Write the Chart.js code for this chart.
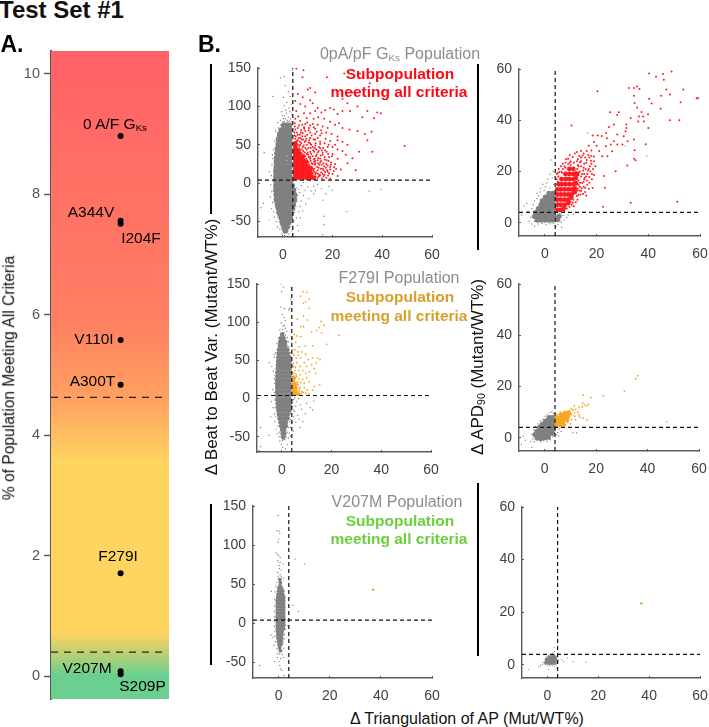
<!DOCTYPE html>
<html><head><meta charset="utf-8"><style>
html,body{margin:0;padding:0;background:#fff;width:709px;height:727px;overflow:hidden;font-family:"Liberation Sans",Arial,sans-serif}
canvas{position:absolute;display:block}
.t{position:absolute;white-space:nowrap;line-height:1;transform:translate(-50%,-50%)}
.r{transform:translate(-50%,-50%) rotate(-90deg)}
.bar{position:absolute;background:#000;width:2px}
sub{font-size:.62em;vertical-align:-.2em;line-height:0}
</style>
<script src="https://cdn.jsdelivr.net/npm/chart.js@4"></script></head><body>
<script>
// Panel A values
const mutantLabels=['0 A/F GKs','A344V','I204F','V110I','A300T','F279I','V207M','S209P'];
const mutantPercent=[8.97,7.56,7.51,5.58,4.84,1.71,0.08,0.03];
const percentTicks=[0,2,4,6,8,10];
const cutoffs=[4.63,0.4];
const gradientStops=[[10.38,'#ff6167'],[5.9,'#ff7f62'],[4.63,'#ffa061'],[3.55,'#ffd45f'],[0.72,'#ffd45f'],[0.4,'#c2cf72'],[0.02,'#6bd08f'],[-0.38,'#6bd08f']];
// Scatter axes
const triTicks=[0,20,40,60];
const bvTicks=[-50,0,50,100,150];
const apdTicks=[0,20,40,60];
const thresholdValue=4;
// Panel 1: 0 pA/pF, beat variability vs triangulation
const p1GrayCore=[[.4,75],[1.5,75],[2.6,75],[-.6,69],[.8,69],[2.6,69],[-1.2,63],[.3,63],[1.9,63],[2.7,63],[-1.6,57],[-.2,57],[1.4,57],[2.7,57],[-1.8,51],[-.5,51],[1,51],[2.7,51],[-2.1,45],[-.7,45],[.9,45],[2.7,45],[-2.3,39],[-.9,39],[.7,39],[2.7,39],[-2.4,33],[-1,33],[.6,33],[2.7,33],[-2.5,27],[-1.1,27],[.5,27],[2.7,27],[-2.6,21],[-1.2,21],[.4,21],[2,21],[2.7,21],[-2.7,15],[-1.2,15],[.4,15],[2,15],[2.7,15],[-2.7,9],[-1.2,9],[.4,9],[2,9],[2.7,9],[-2.7,3],[-1.2,3],[.4,3],[2,3],[3,3],[-2.7,-3],[-1.2,-3],[.4,-3],[2,-3],[3.6,-3],[-2.7,-9],[-1.2,-9],[.4,-9],[2,-9],[3.6,-9],[4.2,-9],[-2.6,-15],[-1.2,-15],[.4,-15],[2,-15],[3.6,-15],[4.6,-15],[-2.5,-21],[-1.1,-21],[.5,-21],[2.1,-21],[3.7,-21],[4.6,-21],[-2.1,-27],[-.7,-27],[.9,-27],[2.5,-27],[4.1,-27],[-1.7,-33],[-.3,-33],[1.3,-33],[2.9,-33],[3.8,-33],[-1.3,-39],[0,-39],[1.6,-39],[3.2,-39],[-.6,-45],[.7,-45],[2.2,-45],[2.9,-45],[-.1,-51],[1.1,-51],[2.3,-51],[.5,-57],[1.6,-57],[1,-62]];
const p1GrayDots=[[.5,139],[-1,137],[3.9,147],[-4,113],[-7.5,40],[-4,32],[-5.5,15],[-7.8,-26],[-8.8,-32],[-5.5,-48],[25.7,-37],[39.4,-8],[34.7,-10],[18.6,-4],[16.6,-43],[16,-67],[16.6,-54],[1,127],[2.2,119],[3,113],[.2,112],[1.6,105],[3.3,103],[.5,101],[2.5,98],[1.2,95],[-.4,93],[3.4,90],[.7,88],[2.2,86],[-1,82],[.2,84],[1.7,82],[3.5,80],[-2,79],[-3,68],[-3.3,55],[-3.7,44],[-4.2,37],[-4.4,24],[-4.6,10],[-4.9,-2],[-4.4,-11],[-5,-18],[-4.1,-25],[-4.6,-33],[-3.7,-37],[-3.4,-44],[-2.7,-50],[-2.2,-57],[-1.2,-60],[-.4,-66],[.7,-68],[2.4,-66],[3.4,-62],[4,-56],[4.4,-49],[5.4,-45],[6.4,-37],[7,-30],[7.4,-23],[8.3,-16],[9,-9],[10,-5],[6.8,-12],[7.4,-3],[8.2,1],[11.4,-10],[12.4,-4],[14,-2],[12.4,-14],[10.4,-20],[9.2,-27],[8,-36],[7,-45],[6,-55],[13.2,-9],[15.6,-7],[17.3,-14],[19.8,-9],[16.2,-22],[6.3,-62],[3.8,-68],[-3.2,40],[-3.4,30],[-3.6,18],[-3.7,6],[-3.8,-6],[-3.5,-16],[-3.4,-24],[-3,-31],[-2.6,-38],[-2,-44],[-1.4,-50],[-.8,-55],[-.2,-60],[2.9,-57],[3.4,-50],[3.8,-44],[4.6,-38],[5.2,-30],[5.6,-24],[6,-16],[5.6,-6],[4.8,-3],[6.4,-8],[-2.6,60],[-2.3,66],[-1.6,72],[-.9,76],[0,80],[.9,84],[1.4,78],[2.6,81],[3.1,84],[-.2,88],[1.4,91],[2.8,93],[.6,80],[2,80],[-.2,71],[3.3,69],[3.4,60],[3.4,48],[3.4,36],[3.4,26]];
const p1RedCore=[[5,7],[6.5,7],[8,7],[9.5,7],[11,7],[12.4,7],[5,11],[6.5,11],[8,11],[9.5,11],[11,11],[5,15],[6.5,15],[8,15],[9.5,15],[11,15],[5,19],[6.5,19],[8,19],[9.5,19],[11,20],[5,23],[6.5,23],[8,23],[9.5,23],[5,27],[6.5,27],[8,27],[9.4,28],[5,31],[6.5,31],[8,31],[5,35],[6.5,35],[8,35],[5,39],[6.5,39],[5,43],[6.2,43],[5,47],[5,52]];
const p1RedDots=[[49,48.5],[39.4,91],[38,92],[36.7,84.5],[35.7,67],[34,56],[36,41],[30.7,41],[29.3,17],[23.3,18],[22,9.5],[28,32.5],[25.3,37],[22,60.7],[22.6,78],[5.5,149.5],[8.3,147],[7.9,138],[10,122],[11,124],[13,118],[17.7,138],[24.7,143],[31,143],[35,130],[28,118],[24,110],[26,104],[30,100],[34,94],[32,86],[27,94],[24,94],[22,90],[20.5,96],[19,98],[17,95],[15.5,92],[14,98],[11,108],[8,112],[6,116],[5,107],[7,103],[9,100],[12,104],[13,94],[11,91],[8.5,91],[5.4,94],[6.2,87],[9.6,85],[12.4,84],[14.2,86],[16.6,84],[19,80],[21,76],[24,72],[26.8,70],[30,68],[33,64],[18,72],[16,74],[14,76],[12,77],[9.8,79],[7,81],[5,84],[4.8,78],[6.5,75],[8.5,73],[10.5,72],[13,71],[15.4,69],[17.4,66],[19.6,64],[22,56],[24,54],[26,50],[21,50],[19,55],[17.2,58],[15,62],[13,64],[11,66],[9,68],[7.4,69],[5,70],[4.6,62],[6.8,63],[9,61],[11,59],[13,57],[15,54],[16.8,52],[18.4,50],[20,47],[22,44],[24,42],[20,38],[18.6,34],[17,43],[15,46],[13,49],[11,52],[9.2,55],[7.6,57],[6,56],[5,53],[8.4,49],[10.3,46],[12.2,43],[14,40],[16,37],[17.6,30],[19.4,27],[16.3,26],[15,32],[13.3,35],[11.4,38],[10,40],[9,35],[11,32],[13,29],[14.6,24],[12,25],[10.3,27],[10,22],[12,19],[14,17],[16,19],[18,15],[19,21],[16.8,11],[15,10],[13,12],[14,7],[17.5,7],[12,13],[10.6,14],[12.4,9],[26,26],[22,32],[21,25],[10.5,9],[11.8,10],[13,6],[14.5,9],[15.8,6],[16.4,9],[18.2,10],[19,6],[11,14],[12.6,15],[14,12.5],[15.4,14],[17,14.5],[18.6,13],[11,18],[12.6,19],[13.8,21],[15.3,19],[17.3,20],[19,18],[20.5,16],[10.6,24],[11.6,21],[13,24],[14.2,26],[15.6,24],[17.4,25],[19.3,24],[20.6,21],[9.6,28],[11.2,29],[12.4,31],[14,30],[15.4,29],[16.8,31],[18.4,29],[9.4,32],[10.4,34],[12,35],[13.6,37],[15.2,36],[16.8,34],[18.2,38],[19.8,35],[8.4,36],[9.6,38],[11,41],[12.6,41],[14.4,42],[16,40],[17.6,41],[8.2,42],[9.6,44],[11.2,46],[12.8,46],[14.6,47],[16.2,46],[18,47],[6.6,45],[8,47],[9.6,50],[11.4,50],[13.2,52],[15,51],[6,50],[7.4,52],[8.8,54],[10.6,56],[12.4,57],[14,59],[5,58],[6.4,59],[7.8,61],[9.8,63],[11.6,62],[13.6,67],[15.6,65],[5.6,66],[7.2,66],[8.6,71],[10.4,69],[12.4,73],[4.8,74],[6,72],[7.8,76],[9,77],[11,75],[11.4,12],[13.2,9],[12.2,17],[13.4,14],[14.6,11],[16,12],[14.4,20],[13,26],[11.6,26],[12.6,28],[11,34],[10.2,37],[12.8,32],[14.2,33],[7.6,39],[8.8,40],[7.6,44],[9,46],[6.6,48],[7,50],[5.6,55],[6.8,54],[8.2,57],[5.2,61],[6,63],[7,59],[4.6,66],[8,65],[9.4,58],[10.4,53],[12,47],[13.4,44],[15.6,43],[16.6,22],[18,23],[15,27],[16.4,17],[17.8,17],[20,12],[21.4,19]];
// Panel 2: 0 pA/pF, APD vs triangulation
const p2GrayCore=[[-3,1],[-1.5,1],[0,1],[1.5,1],[2.8,1],[-4,2.5],[-2.5,2.5],[-1,2.5],[.5,2.5],[2,2.5],[3.1,2.5],[-3.5,4],[-2,4],[-.5,4],[1,4],[2.5,4],[3.1,4],[-2.5,5.5],[-1,5.5],[.5,5.5],[2,5.5],[3.1,5.5],[-1.5,7],[0,7],[1.5,7],[3.1,7],[-1,8.5],[.5,8.5],[2,8.5],[3.1,8.5],[.2,10],[1.6,10],[3.1,10],[1.6,11.5],[3.1,11.5],[4.6,2],[5.5,2.6],[5,1.2]];
const p2GrayDots=[[-6,.6],[-5.4,2],[-6.5,4.5],[-8,6.5],[-7,7.5],[-9,3],[-5,5.5],[-4.5,7],[-4,8.5],[-3,9.5],[-2.4,10.5],[-1.8,12],[-3,11.5],[-1.5,13.5],[-.8,15],[-.3,12.5],[.4,14],[.8,15.5],[1.2,17],[2.8,17.5],[2,19],[3.2,20],[2.4,24.5],[3.5,15],[1.8,13.5],[-4,.5],[-5,-.5],[-4,-1.4],[-2.5,-.5],[-1,-.3],[.5,-.8],[2,-.4],[3.4,-.2],[5,-.7],[6.3,.3],[7.5,1],[8.5,2],[7,2.8],[5.8,3.4],[6.5,-1.8],[16.5,35],[31,30],[39.5,26],[9,3],[11,3.4],[4.2,-1.5]];
const p2RedCore=[[4.8,5],[6,5],[7.2,5.4],[4.8,7],[6.2,7],[7.6,7],[9,7.6],[4.8,9],[6.2,9],[7.6,9],[9,9],[10.2,9.8],[4.8,11],[6.2,11],[7.6,11],[9,11],[10.4,11],[11.5,12],[4.8,13],[6.2,13],[7.6,13],[9,13],[10.4,13],[11.6,13.4],[5.4,15],[6.6,15],[8,15],[9.5,15],[11,15],[12,15.4],[6.5,17],[8,17],[9.5,17],[11,17],[12,17.4],[8,19],[9.5,19],[11,19],[12.4,19],[9.5,21],[11,21]];
const p2RedDots=[[40.3,58.2],[43,57],[45.7,58],[46,55.8],[49,59],[47,52],[48.4,50],[45,49.6],[53.5,52],[52.5,47],[58.7,48.6],[59.3,48.6],[44.8,44.5],[48.4,40],[52,40],[40,37],[51.2,8.2],[39,30.6],[33.2,7.8],[22.5,6.2],[10.3,37.9],[20.3,51.3],[32.5,52.6],[34.5,52.6],[35.6,53.2],[36.6,52.2],[34.5,49.6],[34.7,46.7],[40.3,48.4],[41.3,46.5],[35.7,45],[37.4,43.2],[36.4,41.5],[39.9,42.3],[38,41.5],[38.3,39.5],[36.1,39.5],[33.2,40.9],[28.6,43.1],[25.2,43.1],[28,42],[31.5,38.3],[31.5,37],[31.2,35.7],[26.7,38.3],[24.8,37.4],[23.7,35],[28,34.4],[30.5,33.7],[34.5,32.5],[32,31.8],[30,30.5],[28,30.5],[25.5,30.5],[23.6,29.8],[22.2,25.9],[24.2,25.9],[26,27.9],[26.7,31.8],[34.7,28.3],[34.5,25],[35.1,24.4],[31.9,22.3],[27.4,20.1],[22.8,18.2],[23.2,13.6],[20.5,34],[18.5,34],[20,30],[22,33.8],[24,33],[21,28],[18,28.2],[16.2,28],[19,25.8],[17.2,25.4],[15,27],[13.4,26],[11.6,27],[14,24],[16,23.4],[18,23],[19.5,22],[17,21],[15,21.4],[13,22],[8.2,24.8],[7,23],[9,22.8],[12.4,24],[14.4,19],[16.4,19],[18.2,19],[15.2,17],[17.2,15.6],[13.6,15.6],[15,14],[18.5,13.5],[17,13.2],[13.4,12.6],[12.4,10.4],[11,9],[12,8],[9.5,6.2],[8.5,5.5],[7.5,4.6],[8.6,17.5],[6,17.5],[5,16],[4.7,15],[7.4,19],[5.2,18],[6.4,20],[5.4,21],[8,21.4],[10,24],[12.5,21],[14,28],[17,30],[19,31.5],[12.5,12.5],[13.5,14],[14.4,15.5],[13,16.5],[14,18],[15.4,17.5],[16.2,16.5],[13.5,20],[14.8,20.4],[15.8,21],[16.6,20.4],[17.6,20],[12.8,22.5],[14,22],[15.2,23],[16.2,24.5],[17.4,22],[18.6,21],[19,24],[18,26],[16.8,26.4],[15.6,25.4],[17.8,24.2],[14,25.4],[12.8,24.8],[11.2,23.4],[10,22.4],[9,25],[8,23.5],[6.6,19.5],[5,19.4],[4.6,17],[9.6,23.4],[13,18.5],[12,20],[18.2,17],[19,18.6],[16.4,14.8],[15,16],[13,10.8],[12,11.4],[14,12.4],[15.6,12],[10.8,7.8],[10,8.2],[9,7.2],[8,6.2],[7,4.8],[5.5,4.6],[11.2,6.4],[10.4,7],[12.6,9],[13.8,11],[14.8,11.2],[16,10.6],[7,21],[5.6,19.8],[4.6,19],[6.2,22],[7.6,22],[13.2,19.6],[13.6,23.6],[14.6,26.2],[10.8,25.6],[9.6,26.4],[12.4,27.6],[15.2,19],[16,18],[17.2,17.8],[13,14.8],[12.8,13.2],[14.2,13.4],[15.6,13.6]];
// Panel 3: F279I
const p3GrayCore=[[.1,84],[-.4,79],[.7,79],[-.7,74],[.4,74],[1.4,74],[-.8,69],[.2,69],[1.4,69],[-1.1,64],[0,64],[1.3,64],[2.2,64],[-1.3,59],[-.2,59],[1.1,59],[2.4,59],[-1.4,54],[-.4,54],[.9,54],[2.2,54],[3,54],[-1.5,49],[-.5,49],[.8,49],[2.1,49],[3.1,49],[-1.6,44],[-.6,44],[.7,44],[2,44],[3.1,44],[-1.7,39],[-.7,39],[.6,39],[1.9,39],[3.1,39],[-1.8,34],[-.8,34],[.5,34],[1.8,34],[3.1,34],[-1.8,29],[-.8,29],[.5,29],[1.8,29],[3.1,29],[-1.9,24],[-.9,24],[.4,24],[1.7,24],[3.1,24],[-1.9,19],[-.9,19],[.4,19],[1.7,19],[3.1,19],[-1.9,14],[-.9,14],[.4,14],[1.7,14],[3.1,14],[-1.9,9],[-.9,9],[.4,9],[1.7,9],[3.1,9],[-1.9,4],[-.9,4],[.4,4],[1.7,4],[3,4],[-1.8,-1],[-.8,-1],[.5,-1],[1.8,-1],[3.1,-1],[-1.7,-6],[-.7,-6],[.6,-6],[1.9,-6],[3.2,-6],[-1.6,-11],[-.6,-11],[.7,-11],[2,-11],[3.2,-11],[-1.4,-16],[-.4,-16],[.9,-16],[2.2,-16],[3,-16],[-1.2,-21],[-.2,-21],[1.1,-21],[2.4,-21],[-.9,-26],[.1,-26],[1.4,-26],[2.3,-26],[-.6,-31],[.4,-31],[1.6,-31],[-.3,-36],[.7,-36],[1.6,-36],[.1,-41],[1,-41],[.3,-46],[1,-46],[.6,-51]];
const p3GrayDots=[[-.3,150],[.6,146],[-.1,140],[3.8,145],[3.6,130],[1,118],[-.5,120],[2.7,116],[3.2,118],[.2,110],[.9,106],[1.4,102],[-.3,99],[.5,95],[1.4,92],[-.8,90],[2,88],[1.1,86],[2.2,80],[2.8,74],[-2,72],[-2.5,60],[-3.1,58],[-3,54],[-5,47],[-4,42],[-3.4,36],[-3,26],[-3.6,12],[-3.3,4],[-4.2,-4],[-3.6,-12],[-2.9,-20],[-4.4,-24],[-2.8,-30],[-5.2,-48],[-2.4,-40],[-1.8,-46],[-1.2,-50],[-.8,-56],[-.2,-60],[.4,-64],[1.4,-66],[2.2,-60],[2.6,-52],[3,-45],[3.5,-38],[4.2,-31],[4.6,-24],[5.2,-17],[5.6,-10],[6,-4],[6.8,0],[7.4,-8],[8,-14],[6.4,-22],[7,-27],[5.6,-31],[4.6,-43],[10,-6],[11.4,-12],[12.4,-15],[12.8,-3],[9.4,-20],[8.4,-30],[7.4,-38],[-10,-30],[-8.6,-38],[-8.6,-63],[-9.2,-68],[4.4,-2],[4.4,-10],[4.8,-15],[3.6,-27],[3.4,-49],[-2.8,30],[-2.9,20],[-2.9,8],[-2.8,-2],[-2.7,-12],[-2.4,-24],[-1.6,-36],[-1,-44],[-.4,-50],[.2,-55],[1.2,-54],[1.8,-50],[2.2,-44],[2.6,-38],[3.2,-30],[3.6,-20],[4.2,-6],[4.8,-1],[5.2,1],[.4,90],[1,96],[-.2,84],[1.4,83],[2.8,68],[3.4,60],[-1.4,79],[-2,64]];
const p3OrangeCore=[[4.6,6],[5.6,6],[6.6,6],[4.6,10],[5.6,10],[4.6,14],[5.6,14],[4.6,18],[5.6,19],[4.6,23],[4.8,28]];
const p3OrangeDots=[[8.5,140],[10,139],[7.5,134],[8.7,125],[11,130],[9.6,127],[11,118],[8.7,108],[6.2,104],[10.3,103],[15.8,101],[17,96],[7.6,94],[8.7,94],[15,93],[14,89],[16,86],[23,83],[12,87],[5,84],[6,82],[7.6,81],[4.4,79],[5.6,74],[18,71],[12.4,69],[9.4,69],[7,68],[5.4,64],[4.4,64],[6.4,61],[8,61],[9.6,58],[6.6,57],[4.8,57],[5.8,53],[7.6,53],[14.6,53],[15.4,51],[10.6,51],[12.4,53],[13.8,47],[9,47],[6,47],[4.6,46],[7.4,42],[10,42],[12,44],[13,39],[5.4,41],[6.8,37],[8.4,37],[9.6,33],[11,35],[13.6,33],[4.4,34],[5.8,31],[7.4,31],[6.8,26],[8.4,25],[10,27],[11,22],[15.2,18],[13,16],[7.6,21],[9,20],[6.4,22],[7.4,15],[9,14],[10.2,11],[12.4,11],[7,10],[8.6,8],[9.6,7],[7.8,6],[10.8,6],[6.6,18],[7,13],[5.4,26],[6,29],[5,33],[5.4,37],[4.6,42],[8,9]];
// Panel 4: F279I
const p4GrayCore=[[-3,0],[-1.6,-.3],[0,0],[1.4,.2],[-3.8,1.2],[-2.4,1.2],[-1,1.2],[.4,1.2],[1.8,1.6],[3,1.8],[-3,2.5],[-1.6,2.6],[-.2,2.6],[1.2,2.8],[2.6,3],[-2,4],[-.6,4],[.8,4],[2.2,4.2],[3.2,3.5],[-1,5.2],[.3,5.2],[1.6,5.4],[3,5],[.3,6.4],[1.6,6.6],[3,6.4],[1.8,7.8],[3,7.8]];
const p4GrayDots=[[-8.4,.6],[-9,-2.6],[-7.6,-1],[-5,-3.8],[-5.4,-1.5],[-4.6,-.5],[-5,1.4],[-4.2,3],[-3.6,4.4],[-2.6,5.4],[-1.6,6.6],[-.6,7.2],[.2,8.4],[1,9],[2,9.8],[2.8,10],[3.4,9.4],[.6,7.6],[-1.5,-1.6],[-.4,-1.2],[1,-1.4],[2.2,-.8],[3.2,.4],[4.5,1.2],[5,2],[4.2,2.8],[5.6,3.4],[6.4,2.4],[11,2],[12.4,1.8],[-3,-1],[-4,-1.6],[5.4,.8]];
const p4OrangeCore=[[4.8,5],[6,5],[7.2,5.2],[4.8,6.4],[6,6.4],[7.4,6.6],[8.6,7],[4.8,7.8],[6,7.8],[7.4,8],[9,8.4],[6.4,9],[8,9.4],[9.4,9.6]];
const p4OrangeDots=[[36.2,24.2],[35.4,23],[31,18.2],[22.8,16.4],[15,16.6],[18,15.6],[14.8,13.6],[15.4,12.8],[16.2,12.4],[14.6,12],[17,13],[13.4,11.8],[11.5,12.4],[12,11],[11,10.8],[13,10],[10.4,11.4],[11.6,9.8],[10.4,9],[9.6,10.6],[8.4,10.4],[7.4,10.2],[6,10],[13.6,8],[15,7.6],[16.4,6.8],[12,7],[10.4,7],[9,6],[8,5],[10,5.4],[47.4,6.2],[4.4,9.2],[5,9],[11.6,8.4],[13.4,9]];
// Panel 5: V207M
const p5GrayCore=[[.5,56],[.7,52],[.6,48],[.1,45],[1,45],[0,41],[.9,41],[1.6,41],[-.2,37],[.7,37],[1.6,37],[-.4,33],[.5,33],[1.4,33],[2,33],[-.5,29],[.5,29],[1.4,29],[2,29],[-.5,25],[.5,25],[1.4,25],[2,25],[-.5,21],[.5,21],[1.4,21],[2,21],[-.5,17],[.5,17],[1.4,17],[2,17],[-.5,13],[.5,13],[1.4,13],[2,13],[-.5,9],[.5,9],[1.4,9],[2,9],[-.5,5],[.5,5],[1.4,5],[2,5],[-.5,1],[.5,1],[1.4,1],[2,1],[-.5,-3],[.5,-3],[1.4,-3],[2,-3],[-.5,-7],[.5,-7],[1.4,-7],[1.9,-7],[-.4,-11],[.5,-11],[1.4,-11],[-.3,-15],[.5,-15],[1.3,-15],[-.2,-19],[.6,-19],[1.2,-19],[0,-23],[.6,-23],[1.1,-23],[.2,-27],[.9,-27],[.4,-31],[.7,-35]];
const p5GrayDots=[[-.2,138],[-.6,118],[.2,118],[.5,115],[.1,108],[-.2,104],[-1,90],[-.4,88],[.1,86],[.7,84],[-.3,80],[.6,78],[.2,74],[1.8,76],[.3,70],[1,68],[-.3,65],[.6,62],[-.2,60],[1.1,60],[1.8,58],[6.4,82],[10.2,76],[-2.8,41],[5.6,23],[7.8,15],[-.7,52],[1,52],[1.4,47],[-1,47],[2,44],[-1.4,40],[2.3,36],[-1.5,30],[2.3,26],[-1.6,22],[2.4,20],[-1.6,15],[2.5,13],[-1.6,8],[2.6,6],[3.4,4],[-1.7,3],[-1.6,-4],[2.6,-2],[3.6,-3],[2.6,-8],[-1.5,-10],[2.3,-14],[-3,-15],[-2.4,-18],[-1.4,-17],[2.2,-20],[-1.2,-24],[-1.8,-28],[1.8,-26],[2,-32],[-.6,-33],[1.2,-35],[-.5,-39],[.4,-39],[1.4,-40],[-.4,-44],[.8,-45],[-1.7,-49],[.2,-49],[.5,-54],[.8,-58],[1.2,-60],[-7.4,-54],[2.2,-67],[1.9,-44]];
const p5GreenDots=[[37,43]];
// Panel 6: V207M
const p6GrayCore=[[.6,.8],[1.7,.8],[2.8,.8],[.2,1.8],[1.3,1.8],[2.4,1.8],[3,1.8],[.8,2.8],[1.9,2.8],[2.9,2.8],[2.2,3.4],[-.4,1],[-.2,2]];
const p6GrayDots=[[-7.4,-1.8],[-3.4,-.8],[-2.7,-.3],[-2,.2],[-1.2,.4],[-1.6,.9],[-.6,1],[-.8,.2],[0,-.2],[1,-.3],[2,-.4],[3,-.5],[3.5,-1.2],[.4,-1.8],[3.6,.4],[4.2,1],[4.4,1.8],[5.6,2],[6.4,1.2],[7.8,2.6],[10.2,1.2],[15.2,1],[-.4,3],[.4,3.6],[1.2,4],[2,4.4],[2.8,5],[2.6,6.6]];
const p6GreenDots=[[36.9,23.3]];

const GRAY='#808080',RED='#ff1a20',ORANGE='#f5a623',GREEN='#5ee62e';
function addText(html,cx,cy,css,rot){const d=document.createElement('div');d.className='t'+(rot?' r':'');d.innerHTML=html;d.style.left=cx+'px';d.style.top=cy+'px';d.style.cssText+=css;document.body.appendChild(d);}
function addBar(x,y0,y1){const d=document.createElement('div');d.className='bar';d.style.left=x+'px';d.style.top=y0+'px';d.style.height=(y1-y0)+'px';document.body.appendChild(d);}

function mkCanvas(left,top,w,h){const c=document.createElement('canvas');c.width=w;c.height=h;c.style.left=left+'px';c.style.top=top+'px';c.style.width=w+'px';c.style.height=h+'px';document.body.appendChild(c);return c;}
const pts=a=>a.map(p=>({x:p[0],y:p[1]}));

function scatterPanel(g,yMin,yMax,yTicks,sets){
  const mL=42,mT=20,mR=20,mB=30;
  const w=Math.round(g.r-g.l),h=Math.round(g.b-g.t);
  const c=mkCanvas(g.l-mL,g.t-mT,w+mL+mR,h+mT+mB);
  const lineDs=(data,dash)=>({type:'scatter',data:pts(data),showLine:true,borderColor:'#111',borderWidth:1.2,borderDash:dash,pointRadius:0,order:0,fill:false});
  const ds=[lineDs([[thresholdValue,yMin],[thresholdValue,yMax]],[4,3]),lineDs([[-10,thresholdValue],[60,thresholdValue]],[4,3])];
  sets.forEach((s,i)=>ds.push({data:pts(s.d),backgroundColor:s.c,borderWidth:0,pointRadius:s.r,pointHoverRadius:s.r,order:s.o}));
  new Chart(c,{type:'scatter',data:{datasets:ds},options:{responsive:false,animation:false,events:[],
    layout:{autoPadding:false,padding:{top:mT,right:mR,left:0,bottom:0}},
    plugins:{legend:{display:false},tooltip:{enabled:false}},
    scales:{
      x:{type:'linear',min:-10,max:60,afterFit:s=>{s.height=mB},afterBuildTicks:s=>{s.ticks=triTicks.map(v=>({value:v}))},
        border:{color:'#5a5a5a',width:1.4},grid:{drawOnChartArea:false,tickLength:-2,tickColor:'#5a5a5a'},
        ticks:{color:'#404040',font:{family:'"Liberation Sans"',size:14},padding:12,maxRotation:0,autoSkip:false}},
      y:{type:'linear',min:yMin,max:yMax,afterFit:s=>{s.width=mL},afterBuildTicks:s=>{s.ticks=yTicks.map(v=>({value:v}))},
        border:{color:'#5a5a5a',width:1.4},grid:{drawOnChartArea:false,tickLength:-2,tickColor:'#5a5a5a'},
        ticks:{color:'#404040',font:{family:'"Liberation Sans"',size:14},padding:9,autoSkip:false}}
    }}});
}
// Panel A
(function(){
  const g={l:51,r:169,t:51,b:699},mL=42,mT=14,mR=4,mB=14;
  const c=mkCanvas(g.l-mL,g.t-mT,g.r-g.l+mL+mR,g.b-g.t+mT+mB);
  const bg={id:'bg',beforeDatasetsDraw(ch){const y=ch.scales.y,a=ch.chartArea,t=y.getPixelForValue(gradientStops[0][0]),b=y.getPixelForValue(gradientStops[gradientStops.length-1][0]);
    const gr=ch.ctx.createLinearGradient(0,t,0,b);gradientStops.forEach(s=>gr.addColorStop((y.getPixelForValue(s[0])-t)/(b-t),s[1]));
    ch.ctx.fillStyle=gr;ch.ctx.fillRect(a.left,t,a.right-a.left,b-t);}};
  new Chart(c,{type:'scatter',data:{datasets:[
    {data:mutantPercent.map(v=>({x:.59,y:v})),backgroundColor:'#000',pointRadius:3,borderWidth:0,order:0},
    {data:[{x:0,y:cutoffs[0]},{x:.95,y:cutoffs[0]}],showLine:true,borderColor:'#222',borderWidth:1.2,borderDash:[7,6],pointRadius:0,order:1},
    {data:[{x:0,y:cutoffs[1]},{x:.95,y:cutoffs[1]}],showLine:true,borderColor:'#222',borderWidth:1.2,borderDash:[7,6],pointRadius:0,order:1}
  ]},plugins:[bg],options:{responsive:false,animation:false,events:[],
    layout:{autoPadding:false,padding:{top:mT,right:mR,bottom:mB,left:0}},plugins:{legend:{display:false},tooltip:{enabled:false}},
    scales:{x:{type:'linear',min:0,max:1,display:false},
      y:{type:'linear',min:-.38,max:10.38,afterFit:s=>{s.width=mL},afterBuildTicks:s=>{s.ticks=percentTicks.map(v=>({value:v}))},
        border:{color:'#555',width:2},grid:{drawOnChartArea:false,tickLength:7,tickColor:'#555',tickWidth:1.4},
        ticks:{color:'#555',font:{family:'"Liberation Sans"',size:14.5},padding:4,autoSkip:false}}}}});
})();
scatterPanel({l:257.5,r:431.7,t:68.3,b:237.3},-70,150,bvTicks,[{d:p1GrayCore,c:GRAY,r:3,o:5},{d:p1GrayDots,c:GRAY,r:.7,o:4},{d:p1RedCore,c:RED,r:2.4,o:3},{d:p1RedDots,c:RED,r:1,o:2}]);
scatterPanel({l:518.7,r:699.3,t:69.3,b:236.7},-5.2,60,apdTicks,[{d:p2GrayCore,c:GRAY,r:2.6,o:5},{d:p2GrayDots,c:GRAY,r:.7,o:4},{d:p2RedCore,c:RED,r:2.4,o:3},{d:p2RedDots,c:RED,r:1,o:2}]);
scatterPanel({l:256.5,r:430.7,t:284,b:452.3},-70,150,bvTicks,[{d:p3GrayCore,c:GRAY,r:2.3,o:5},{d:p3GrayDots,c:GRAY,r:.7,o:4},{d:p3OrangeCore,c:ORANGE,r:2,o:3},{d:p3OrangeDots,c:ORANGE,r:.9,o:2}]);
scatterPanel({l:519,r:699.3,t:284.3,b:451.7},-5.2,60,apdTicks,[{d:p4GrayCore,c:GRAY,r:2.6,o:5},{d:p4GrayDots,c:GRAY,r:.7,o:4},{d:p4OrangeCore,c:ORANGE,r:2.4,o:3},{d:p4OrangeDots,c:ORANGE,r:.9,o:2}]);
scatterPanel({l:253,r:432.3,t:505.7,b:677.3},-70,150,bvTicks,[{d:p5GrayCore,c:GRAY,r:1.9,o:5},{d:p5GrayDots,c:GRAY,r:.7,o:4},{d:p5GreenDots,c:GREEN,r:1.2,o:2}]);
scatterPanel({l:521.7,r:700,t:506.7,b:677.3},-5,60,apdTicks,[{d:p6GrayCore,c:GRAY,r:2.2,o:5},{d:p6GrayDots,c:GRAY,r:.6,o:4},{d:p6GreenDots,c:GREEN,r:1.2,o:2}]);

addBar(210,64,214);addBar(476.5,64,250);addBar(210,504,665);addBar(476.5,483,656);
addText('Test Set #1',61.5,10,'font-weight:bold;font-size:24px;color:#111');
addText('A.',12,44,'font-weight:bold;font-size:23px;color:#000');
addText('B.',209.5,44,'font-weight:bold;font-size:23px;color:#000');
const lab='font-size:15.5px;color:#000;';
const labelPos=[[115,123.5],[91,212],[141,238],[94,339],[92.5,380.7],[118,555.7],[87,668],[142.5,686]];
mutantLabels.forEach((s,i)=>addText(i===0?'0 A/F G<sub>Ks</sub>':s,labelPos[i][0],labelPos[i][1],lab));
addText('% of Population Meeting All Criteria',9,378,'font-size:15.6px;color:#111',true);
addText('Δ Beat to Beat Var. (Mutant/WT%)',211,347,'font-size:17px;color:#111',true);
addText('Δ APD<sub>90</sub> (Mutant/WT%)',477,367,'font-size:17px;color:#111',true);
addText('Δ Triangulation of AP (Mut/WT%)',467,719,'font-size:16px;color:#111');
const pop='font-size:16px;color:#8c8c8c;';
addText('0pA/pF G<sub>Ks</sub> Population',400,54,pop);
addText('F279I Population',399,278,pop);
addText('V207M Population',397,502,pop);
const sub=c=>'font-weight:bold;font-size:15.5px;color:'+c+';';
addText('Subpopulation',400,74,sub('#ff0a14'));addText('meeting all criteria',399,92,sub('#ff0a14'));
addText('Subpopulation',400,297,sub('#d9a02e'));addText('meeting all criteria',399,316,sub('#d9a02e'));
addText('Subpopulation',400,521,sub('#6ccf3e'));addText('meeting all criteria',399,539,sub('#6ccf3e'));
</script></body></html>
